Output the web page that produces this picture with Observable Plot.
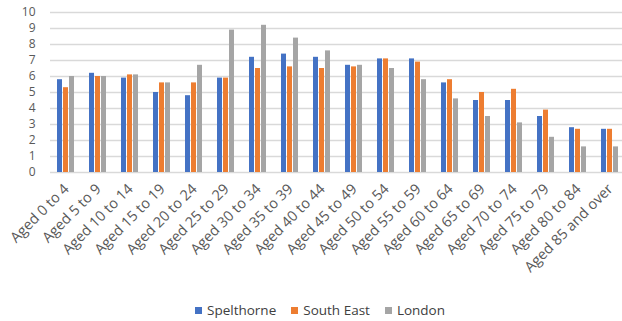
<!DOCTYPE html>
<html><head><meta charset="utf-8">
<script src="https://cdn.jsdelivr.net/npm/d3@7"></script>
<script src="https://cdn.jsdelivr.net/npm/@observablehq/plot@0.6"></script>
<style>
html,body{margin:0;padding:0;background:#fff;overflow:hidden;width:622px;height:321px;}
#chart svg{display:block;}
.legend{display:flex;align-items:center;justify-content:center;padding-left:18px;height:24px;font-family:"Open Sans",sans-serif;font-size:13.5px;color:#404040;gap:15px;}
.legend span.sw{display:inline-block;width:7px;height:7px;margin-right:5px;}
</style>
</head><body>
<div id="chart"></div>
<div class="legend" id="legend"></div>
<script>
const ages = ["Aged 0 to 4","Aged 5 to 9","Aged 10 to 14","Aged 15 to 19","Aged 20 to 24","Aged 25 to 29","Aged 30 to 34","Aged 35 to 39","Aged 40 to 44","Aged 45 to 49","Aged 50 to 54","Aged 55 to 59","Aged 60 to 64","Aged 65 to 69","Aged 70 to 74","Aged 75 to 79","Aged 80 to 84","Aged 85 and over"];
const seriesNames = ["Spelthorne","South East","London"];
const seriesColors = ["#4472C4","#ED7D31","#A5A5A5"];
const spelthorne = [5.8,6.2,5.9,5.0,4.8,5.9,7.2,7.4,7.2,6.7,7.1,7.1,5.6,4.5,4.5,3.5,2.8,2.7];
const southEast  = [5.3,6.0,6.1,5.6,5.6,5.9,6.5,6.6,6.5,6.6,7.1,6.9,5.8,5.0,5.2,3.9,2.7,2.7];
const london     = [6.0,6.0,6.1,5.6,6.7,8.9,9.2,8.4,7.6,6.7,6.5,5.8,4.6,3.5,3.1,2.2,1.6,1.6];
const yTicks = [0,1,2,3,4,5,6,7,8,9,10];

const values = [spelthorne, southEast, london];
const data = [];
ages.forEach((a, i) => seriesNames.forEach((s, j) => data.push({age: a, series: s, value: values[j][i]})));

const font = "'Open Sans', sans-serif";
const plot = Plot.plot({
  width: 622,
  height: 298,
  marginLeft: 47,
  marginRight: -7,
  marginTop: 12,
  marginBottom: 126,
  style: {fontFamily: font, color: "#595959", background: "#fff"},
  fx: {domain: ages, padding: 0, label: null},
  x: {domain: seriesNames, paddingInner: 0.15, paddingOuter: 1, axis: null},
  y: {domain: [0, 10], axis: null},
  color: {domain: seriesNames, range: seriesColors},
  marks: [
    Plot.gridY(yTicks, {stroke: "#d9d9d9", strokeOpacity: 1, strokeWidth: 1.5}),
    Plot.barY(data, {fx: "age", x: "series", y: "value", fill: "series"}),
    Plot.axisY(yTicks, {tickSize: 0, tickPadding: 15, fontSize: 12, label: null, tickFormat: d => String(d)}),
    Plot.axisFx({anchor: "bottom", tickRotate: -45, tickSize: 0, tickPadding: 14, fontSize: 14.5, label: null})
  ]
});
document.getElementById("chart").appendChild(plot);

const lg = document.getElementById("legend");
seriesNames.forEach((s, i) => {
  const d = document.createElement("div");
  d.style.display = "flex"; d.style.alignItems = "center";
  d.innerHTML = `<span class="sw" style="background:${seriesColors[i]}"></span>${s}`;
  lg.appendChild(d);
});
</script>
</body></html>
